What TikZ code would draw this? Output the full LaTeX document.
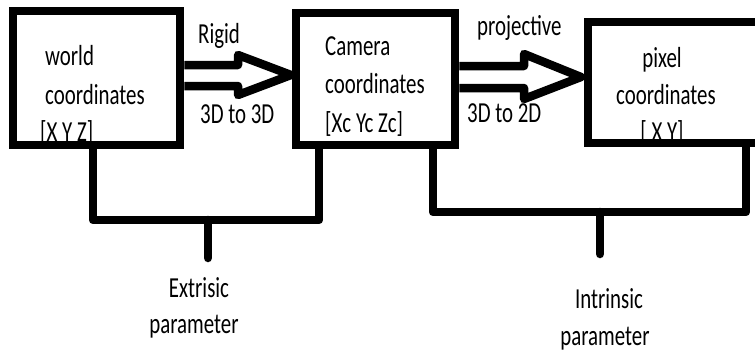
\documentclass[tikz,border=0pt]{standalone}
\usepackage{fontspec}
\setmainfont{Carlito}[FakeStretch=0.72]
\begin{document}
\begin{tikzpicture}[x=1pt,y=-1pt,
  lbl/.style={inner sep=0pt, anchor=base west, font=\fontsize{29}{35}\selectfont},
  clbl/.style={inner sep=0pt, anchor=base, font=\fontsize{29}{35}\selectfont},
  box/.style={draw, line width=8.5pt, inner sep=0pt},
  bus/.style={draw, line width=8.5pt, line cap=round, line join=round},
  harrow/.style={draw, line width=8.5pt, line join=round}]
\useasboundingbox (0,0) rectangle (755,356);
\clip (0,0) rectangle (755,356);
% texts inside boxes (drawn first, borders cover their lower parts)
\node[lbl] (w1) at (45,65) {world};
\node[lbl] (w2) at (45,104) {coordinates};
\node[lbl] (w3) at (40,141) {[X Y Z]};
\node[lbl] (c1) at (325,55) {Camera};
\node[lbl] (c2) at (325,93) {coordinates};
\node[lbl] (c3) at (325,132) {[Xc Yc Zc]};
\node[clbl] (p1) at (662,67) {pixel};
\node[clbl] (p2) at (666,104) {coordinates};
\node[clbl] (p3) at (662,141) {[ X Y]};
% boxes
\node[box, minimum width=167pt, minimum height=134pt] (world) at (96.5,78) {};
\node[box, minimum width=159pt, minimum height=132pt] (camera) at (375.5,79) {};
\node[box, minimum width=212pt, minimum height=121pt] (pixel) at (694,82.5) {};
% arrow labels
\node[lbl] (rigid) at (198,43) {Rigid};
\node[lbl] (d33) at (200,123) {3D to 3D};
\node[lbl] (proj) at (477,35) {projective};
\node[lbl] (d32) at (467,122) {3D to 2D};
% hollow arrow 1
\coordinate (a1t) at (238,65);
\coordinate (a1u) at (238,55);
\coordinate (a1tip) at (291,75);
\coordinate (a1d) at (238,95);
\coordinate (a1b) at (238,86);
\draw[harrow] (world.east |- a1t) -- (a1t) -- (a1u) -- (a1tip) -- (a1d) -- (a1b) -- (world.east |- a1b);
% hollow arrow 2
\coordinate (a2t) at (524,66);
\coordinate (a2u) at (524,54);
\coordinate (a2tip) at (581,77);
\coordinate (a2d) at (524,99);
\coordinate (a2b) at (524,88);
\draw[harrow] (camera.east |- a2t) -- (a2t) -- (a2u) -- (a2tip) -- (a2d) -- (a2b) -- (camera.east |- a2b);
% extrinsic bus
\coordinate (eL) at (93,220);
\coordinate (eR) at (319,220);
\coordinate (eS) at (208,220);
\coordinate (eE) at (208,258);
\draw[bus] (world.south -| eL) -- (eL) -- (eR) -- (camera.south -| eR);
\draw[bus] (eS) -- (eE);
\node[clbl] (ext1) at (199,297) {Extrisic};
\node[clbl] (ext2) at (194,333) {parameter};
% intrinsic bus
\coordinate (iL) at (433,212);
\coordinate (iR) at (746,212);
\coordinate (iS) at (600,212);
\coordinate (iE) at (600,254);
\draw[bus] (camera.south -| iL) -- (iL) -- (iR) -- (pixel.south -| iR);
\draw[bus] (iS) -- (iE);
\node[clbl] (int1) at (609,308) {Intrinsic};
\node[clbl] (int2) at (605,345) {parameter};
\end{tikzpicture}
\end{document}
